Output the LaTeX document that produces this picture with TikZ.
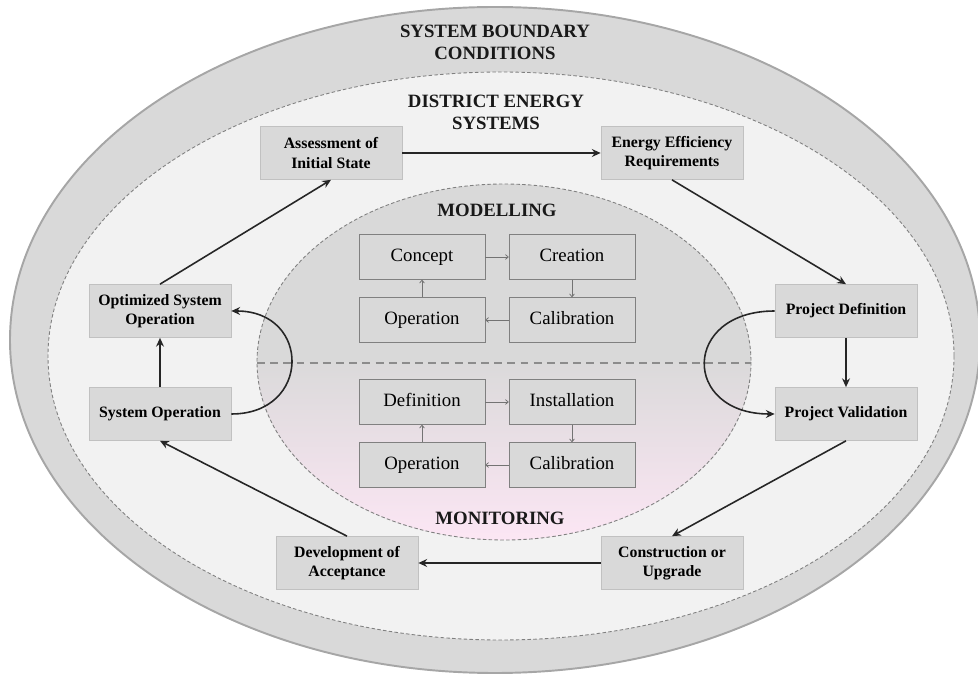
\documentclass[tikz,border=0pt]{standalone}
\usepackage{fontspec}
\setmainfont{Liberation Serif}
\usetikzlibrary{arrows.meta}

\definecolor{ringgray}{HTML}{D9D9D9}
\definecolor{paleback}{HTML}{F2F2F2}
\definecolor{edgegray}{HTML}{A6A6A6}
\definecolor{rosy}{HTML}{FCE6F4}

\tikzset{
    stagebox/.style={draw=edgegray!70, fill=ringgray, minimum width=2.84cm, minimum height=1.06cm,
        inner sep=1pt, align=center, font=\fontsize{9}{10.9}\selectfont\bfseries},
    loopbox/.style={draw=gray, fill=ringgray, minimum width=2.52cm, minimum height=0.9cm,
        inner sep=1pt, text height=1.6ex, text depth=0.45ex, font=\fontsize{10.7}{12}\selectfont},
    heading/.style={align=center, font=\fontsize{10.7}{12.5}\selectfont\bfseries, text=black!90},
    flow/.style={-{Stealth[length=5pt,width=4.5pt]}, line width=0.9pt, black!85},
    inflow/.style={-{To[length=2pt,width=3pt]}, line width=0.45pt, black!55},
    fine dash/.style={dash pattern=on 2pt off 1.3pt}
}

\begin{document}
\begin{tikzpicture}[x=0.02cm, y=-0.02cm]
    \useasboundingbox (0,0) rectangle (978,675);

    \coordinate (outer) at (495,340);
    \coordinate (district) at (501,356);
    \coordinate (core) at (504,362);

    % boundary rings
    \draw [edgegray, fill=ringgray, line width=1.1pt] (outer) ellipse [x radius=485, y radius=333];
    \draw [gray, fine dash, fill=paleback, line width=0.5pt] (district) ellipse [x radius=453, y radius=284];

    % modelling / monitoring core
    \fill [ringgray] (core) ellipse [x radius=247, y radius=178];
    \begin{scope}
        \clip (core) ellipse [x radius=247, y radius=178];
        \shade [top color=ringgray!95!rosy, bottom color=rosy] (257,363) rectangle (751,540);
    \end{scope}
    \draw [gray, fine dash, line width=0.5pt] (core) ellipse [x radius=247, y radius=178];

    \coordinate (divl) at (257,363);
    \coordinate (divr) at (751,363);
    \draw [gray!90, dash pattern=on 4.5pt off 3pt, line width=0.9pt] (divl) -- (divr);

    \node [heading] (boundtitle) at (495,42) {SYSTEM BOUNDARY\\CONDITIONS};
    \node [heading] (disttitle) at (496,112) {DISTRICT ENERGY\\SYSTEMS};
    \node [heading] (modtitle) at (497,210) {MODELLING};
    \node [heading] (montitle) at (500,518) {MONITORING};

    % outer cycle
    \node [stagebox] (assess) at (331,153) {Assessment of\\Initial State};
    \node [stagebox] (effic) at (672,153) {Energy Efficiency\\Requirements};
    \node [stagebox] (projdef) at (846,311) {Project Definition};
    \node [stagebox] (projval) at (846,414) {Project Validation};
    \node [stagebox] (constr) at (672,563) {Construction or\\Upgrade};
    \node [stagebox] (accept) at (347,563) {Development of\\Acceptance};
    \node [stagebox] (sysop) at (160,414) {System Operation};
    \node [stagebox] (optop) at (160,311) {Optimized System\\Operation};

    \draw [flow] (assess) -- (effic);
    \draw [flow] (effic.south) -- (projdef.north);
    \draw [flow] (projdef) -- (projval);
    \draw [flow] (projval.south) -- (constr.north);
    \draw [flow] (constr) -- (accept);
    \draw [flow] (accept.north) -- (sysop.south);
    \draw [flow] (sysop) -- (optop);
    \draw [flow] (optop.north) -- (assess.south);

    \draw [flow] (sysop.east) .. controls +(80,0) and +(80,0) .. (optop.east);
    \draw [flow] (projdef.west) .. controls +(-93,0) and +(-93,0) .. (projval.west);

    % modelling loop
    \node [loopbox] (concept) at (422,257) {Concept};
    \node [loopbox] (creation) at (572,257) {Creation};
    \node [loopbox] (mcalib) at (572,320) {Calibration};
    \node [loopbox] (mop) at (422,320) {Operation};

    \draw [inflow] (concept) -- (creation);
    \draw [inflow] (creation) -- (mcalib);
    \draw [inflow] (mcalib) -- (mop);
    \draw [inflow] (mop) -- (concept);

    % monitoring loop
    \node [loopbox] (definition) at (422,402) {Definition};
    \node [loopbox] (install) at (572,402) {Installation};
    \node [loopbox] (ncalib) at (572,465) {Calibration};
    \node [loopbox] (nop) at (422,465) {Operation};

    \draw [inflow] (definition) -- (install);
    \draw [inflow] (install) -- (ncalib);
    \draw [inflow] (ncalib) -- (nop);
    \draw [inflow] (nop) -- (definition);
\end{tikzpicture}
\end{document}
